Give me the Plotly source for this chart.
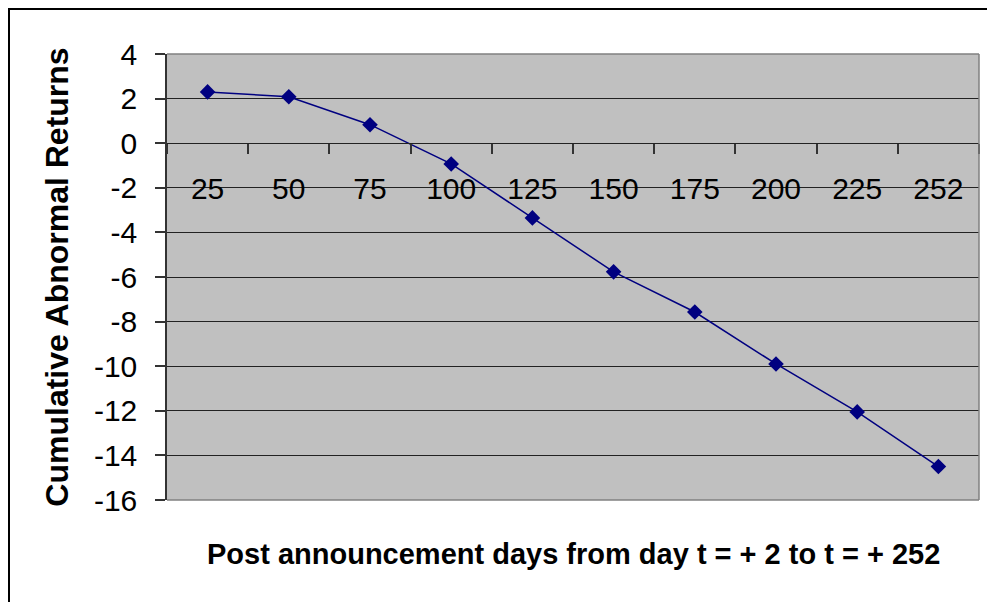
import plotly.graph_objects as go

days = ["25", "50", "75", "100", "125", "150", "175", "200", "225", "252"]
car = [2.3, 2.08, 0.83, -0.93, -3.35, -5.77, -7.57, -9.9, -12.05, -14.5]
y_ticks = [4, 2, 0, -2, -4, -6, -8, -10, -12, -14, -16]

y_title = "Cumulative Abnormal Returns"
x_title = "Post announcement days from day t = + 2 to t = + 252"

W, H = 987, 602
L, R, T, B = 167, 8, 54, 102
pw, ph = W - L - R, H - T - B

def px_x(p):
    return (p - L) / pw

def px_y(p):
    return (H - B - p) / ph

fig = go.Figure()
fig.add_trace(go.Scatter(
    x=days, y=car, mode="lines+markers",
    line=dict(color="#000080", width=1.5),
    marker=dict(symbol="diamond", size=12, color="#000080"),
    showlegend=False, cliponaxis=False,
))

font = "Liberation Sans, Arial, sans-serif"
fig.update_layout(
    width=W, height=H,
    margin=dict(l=L, r=R, t=T, b=B, autoexpand=False),
    paper_bgcolor="white", plot_bgcolor="#C0C0C0",
    font=dict(family=font, color="black"),
    xaxis=dict(
        type="category", range=[-0.5, 9.5], anchor="free", position=0.8,
        showgrid=False, zeroline=False, showline=True, linecolor="#222", linewidth=1,
        ticks="outside", ticklen=10, tickcolor="#333", tickwidth=1.5,
        tickson="boundaries", tickfont=dict(size=30, family=font),
        ticklabelstandoff=19,
    ),
    yaxis=dict(
        range=[-16, 4], tickvals=y_ticks, ticktext=[str(v) for v in y_ticks],
        showgrid=True, gridcolor="#222", gridwidth=1, zeroline=False,
        showline=True, linecolor="#333", linewidth=1.5,
        ticks="outside", ticklen=10, tickcolor="#333", tickwidth=1.5,
        tickfont=dict(size=30, family=font), ticklabelstandoff=12,
        title=dict(text=f"<b>{y_title}</b>", font=dict(size=32, family=font), standoff=16),
    ),
    annotations=[dict(
        text=f"<b>{x_title}</b>", xref="paper", yref="paper",
        x=0.5, y=px_y(554), xanchor="center", yanchor="middle",
        showarrow=False, font=dict(size=29, family=font, color="black"),
    )],
    shapes=[
        # plot-area border (top, right, bottom)
        dict(type="line", xref="paper", yref="paper", x0=0, x1=1, y0=1, y1=1,
             line=dict(color="#808080", width=1.5)),
        dict(type="line", xref="paper", yref="paper", x0=1, x1=1, y0=0, y1=1,
             line=dict(color="#808080", width=1.5)),
        dict(type="line", xref="paper", yref="paper", x0=0, x1=1, y0=0, y1=0,
             line=dict(color="#808080", width=1.5)),
        # outer chart border
        dict(type="rect", xref="paper", yref="paper",
             x0=px_x(9), x1=px_x(1010), y0=px_y(630), y1=px_y(9),
             line=dict(color="black", width=2), fillcolor="rgba(0,0,0,0)", layer="below"),
    ],
)

fig.write_html("out.html", config={"displayModeBar": False},
               post_script="document.body.style.margin='0px';")
